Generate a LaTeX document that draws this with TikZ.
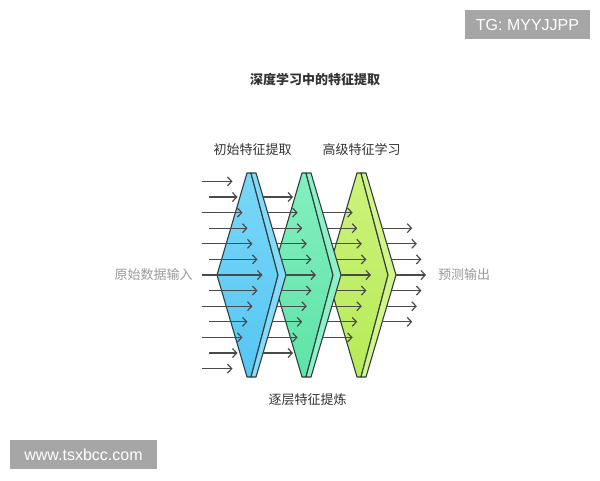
\documentclass[tikz,border=0pt]{standalone}
\usepackage{fontspec}
\newfontfamily\cjk{Noto Sans CJK SC}
\newfontfamily\wmfont{Liberation Sans}
\usetikzlibrary{arrows.meta}
\definecolor{edgec}{HTML}{2F3F40}
\definecolor{arrc}{HTML}{4A4A4A}
\definecolor{bluetop}{HTML}{7AD7F8}
\definecolor{bluebot}{HTML}{55C6F3}
\definecolor{blueside}{HTML}{84DAF8}
\definecolor{greentop}{HTML}{84EFC0}
\definecolor{greenbot}{HTML}{5EE3A8}
\definecolor{greenside}{HTML}{8EF1C6}
\definecolor{limetop}{HTML}{CDF27A}
\definecolor{limebot}{HTML}{B6EB58}
\definecolor{limeside}{HTML}{D2F488}
\definecolor{wmgray}{HTML}{A6A6A6}
\definecolor{darktext}{HTML}{333333}
\definecolor{lighttext}{HTML}{9A9A9A}
\begin{document}
\begin{tikzpicture}[x=1pt,y=-1pt,
  panel/.style={draw=edgec,line width=1.1pt,line join=round},
  flow/.style={draw=arrc,line width=1.2pt,-{Straight Barb[length=4.2pt,width=9pt,line width=1.2pt]}},
  lab/.style={font=\cjk\fontsize{13}{15}\selectfont,text=darktext,inner sep=0pt},
  side/.style={font=\cjk\fontsize{13}{15}\selectfont,text=lighttext,inner sep=0pt},
  wmbox/.style={fill=wmgray,text=white,font=\wmfont\fontsize{16}{18}\selectfont,inner sep=0pt,minimum height=29pt}]
\useasboundingbox (0,0) rectangle (600,480);
\fill[white] (0,0) rectangle (600,480);

% panels, back to front
\foreach \o/\c in {110/lime,55/green,0/blue}{
  \shade[panel,top color=\c top,bottom color=\c bot]
    (217+\o,275) -- (247+\o,173) -- (251+\o,173) -- (278+\o,275)
    -- (251+\o,377) -- (247+\o,377) -- cycle;
  \filldraw[panel,fill=\c side]
    (251+\o,173) -- (256+\o,173) -- (286+\o,275) -- (256+\o,377)
    -- (251+\o,377) -- (278+\o,275) -- cycle;
}

% input arrows
\foreach \i in {1,...,13}{
  \pgfmathsetmacro\yy{275+15.6*(\i-7)}
  \pgfmathsetmacro\dd{abs(\i-7)}
  \pgfmathsetmacro\xs{isodd(\i) ? 201.7 : 209.3}
  \pgfmathsetmacro\xe{262.5-5*\dd}
  \coordinate (s1-\i) at (\xs,\yy);
  \coordinate (e1-\i) at (\xe,\yy);
  \draw[flow] (s1-\i) -- (e1-\i);
}

% arrows leaving each panel
\foreach \o/\a/\b [count=\k from 2] in {0/2/12,55/3/11,110/4/10}{
  \foreach \i in {\a,...,\b}{
    \pgfmathsetmacro\yy{275+15.6*(\i-7)}
    \pgfmathsetmacro\xs{286+\o-30*abs(\yy-275)/102}
    \pgfmathsetmacro\xe{\xs+30}
    \coordinate (s\k-\i) at (\xs,\yy);
    \coordinate (e\k-\i) at (\xe,\yy);
    \draw[flow] (s\k-\i) -- (e\k-\i);
  }
}

% texts
\node[lab,font=\cjk\bfseries\fontsize{13}{15}\selectfont] (title) at (315,80) {深度学习中的特征提取};
\node[lab] (l1) at (252.5,150) {初始特征提取};
\node[lab] (l2) at (361.5,150) {高级特征学习};
\node[lab] (l3) at (307.5,400) {逐层特征提炼};
\node[side] (in) at (153.5,275) {原始数据输入};
\node[side] (out) at (464,275) {预测输出};

% watermarks
\node[wmbox,minimum width=125pt] (wm1) at (527.5,24.5) {TG: MYYJJPP};
\node[wmbox,minimum width=147pt] (wm2) at (83.5,454.5) {www.tsxbcc.com};
\end{tikzpicture}
\end{document}
